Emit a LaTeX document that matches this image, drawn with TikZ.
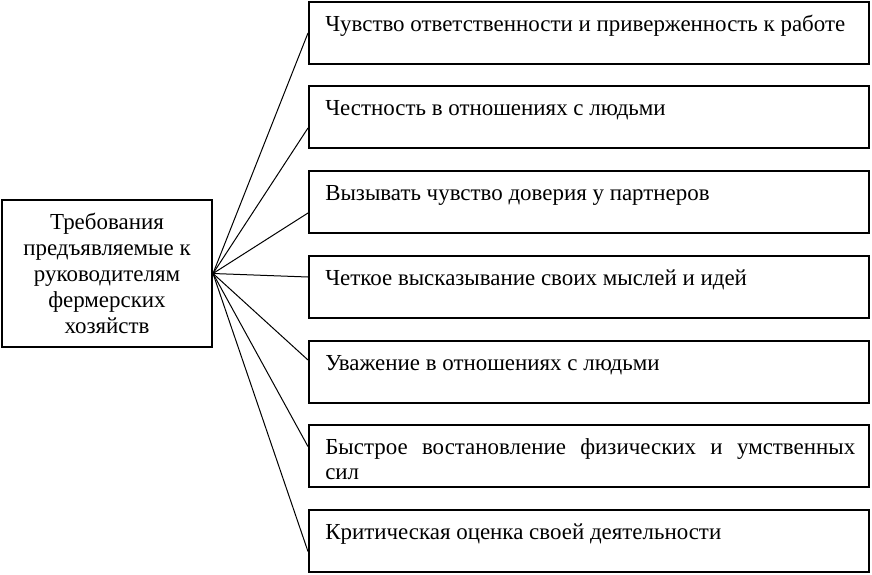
\documentclass[tikz,border=0pt]{standalone}
\usepackage{fontspec}
\setmainfont{Liberation Serif}
\begin{document}
\begin{tikzpicture}[x=0.75pt,y=-0.75pt,
  box/.style={draw=black,line width=1.5pt,rectangle,inner sep=0pt,minimum width=420pt,minimum height=46.5pt},
  mainbox/.style={draw=black,line width=1.5pt,rectangle,inner sep=0pt,minimum width=157.5pt,minimum height=110.25pt,
    align=center,font=\fontsize{17.2}{19.4}\selectfont},
  lbl/.style={anchor=base west,inner sep=0pt,font=\fontsize{17.2}{18.9}\selectfont},
  conn/.style={line width=0.75pt}]
\useasboundingbox (0,0) rectangle (872,575);
\node[mainbox] (L) at (107,273.5) {Требования\\предъявляемые к\\руководителям\\фермерских\\хозяйств};
\node[box] (b1) at (589,33) {};
\node[box] (b2) at (589,117) {};
\node[box] (b3) at (589,202) {};
\node[box] (b4) at (589,287) {};
\node[box] (b5) at (589,372) {};
\node[box] (b6) at (589,456) {};
\node[box] (b7) at (589,541) {};
\node[lbl] (t1) at (325,31) {Чувство ответственности и приверженность к работе};
\node[lbl] (t2) at (325,115) {Честность в отношениях с людьми};
\node[lbl] (t3) at (325,200) {Вызывать чувство доверия у партнеров};
\node[lbl] (t4) at (325,285) {Четкое высказывание своих мыслей и идей};
\node[lbl] (t5) at (325,370) {Уважение в отношениях с людьми};
\node[lbl,anchor=base west,text width=397.5pt,align=left] (t6) at (325,454) {Быстрое\hfill востановление\hfill физических\hfill и\hfill умственных\\сил};
\node[lbl] (t7) at (325,539) {Критическая оценка своей деятельности};
\draw[conn] (L.east) -- (b1.west);
\draw[conn] (L.east) -- ([yshift=-8.25pt]b2.west);
\draw[conn] (L.east) -- ([yshift=-8.25pt]b3.west);
\draw[conn] (L.east) -- ([yshift=7.5pt]b4.west);
\draw[conn] (L.east) -- ([yshift=9pt]b5.west);
\draw[conn] (L.east) -- ([yshift=7.1pt]b6.west);
\draw[conn] (L.east) -- ([yshift=-7.9pt]b7.west);
\end{tikzpicture}
\end{document}
